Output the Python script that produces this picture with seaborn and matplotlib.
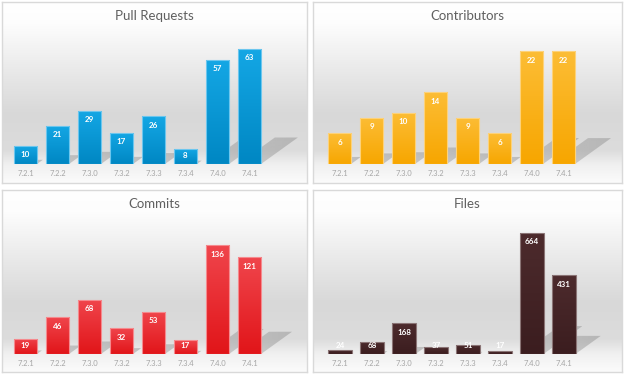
import numpy as np
import matplotlib
matplotlib.use("Agg")
import matplotlib.pyplot as plt
import seaborn as sns
from matplotlib.colors import LinearSegmentedColormap, to_rgb
from matplotlib.patches import Polygon

# ---------------------------------------
# data
# ---------------------------------------
versions = ['7.2.1', '7.2.2', '7.3.0', '7.3.2', '7.3.3', '7.3.4', '7.4.0', '7.4.1']
pull_requests = [10, 21, 29, 17, 26, 8, 57, 63]
contributors = [6, 9, 10, 14, 9, 6, 22, 22]
commits = [19, 46, 68, 32, 53, 17, 136, 121]
files = [24, 68, 168, 37, 51, 17, 664, 431]

titles = ['Pull Requests', 'Contributors', 'Commits', 'Files']
series = [pull_requests, contributors, commits, files]
y_max = [70, 25, 160, 700]
# (top, bottom, edge) colours per chart
bar_colors = [('#14a7e5', '#0087c3', '#6cc6ee'),
              ('#fcbd35', '#f7a600', '#fdd27a'),
              ('#f0454c', '#e11519', '#f58a8e'),
              ('#4d2b2d', '#3b1d1f', '#8a7475')]

# ---------------------------------------
# layout (pixels)
# ---------------------------------------
W, H = 624, 375
panels = [(2, 2, 305, 181), (313, 2, 309, 181), (2, 190, 305, 182), (313, 190, 309, 182)]
first_offset = [7.5, 10.5, 7.5, 11]   # left of plot area inside panel
base_offset = [162, 162, 164, 164]    # baseline below panel top
slot = 32                              # px per category
plot_h = 128                           # px of plot height
extra = 1.4                            # room on the right for shadows (slots)

sns.set_theme(style='white')
plt.rcParams['font.family'] = ['Lato', 'DejaVu Sans']

fig = plt.figure(figsize=(W / 100, H / 100), dpi=100)

bg_cmap = LinearSegmentedColormap.from_list(
    'bg', [(0.0, '#ffffff'), (0.12, '#fdfdfd'), (0.45, '#e4e4e4'),
           (0.62, '#d8d8d8'), (0.82, '#dcdcdc'), (0.9, '#f0f0f0'), (1.0, '#fbfbfb')])

for i, (px, py, pw, ph) in enumerate(panels):
    # panel background
    bg = fig.add_axes([px / W, 1 - (py + ph) / H, pw / W, ph / H])
    grad = np.linspace(0, 1, 256).reshape(-1, 1)
    bg.imshow(grad, cmap=bg_cmap, aspect='auto', extent=(0, 1, 0, 1),
              interpolation='bilinear', vmin=0, vmax=1)
    bg.set_xticks([])
    bg.set_yticks([])
    for s in bg.spines.values():
        s.set_color('#d9d9d9')
        s.set_linewidth(1.0)
    bg.text(0.5, 1 - 14 / ph, titles[i], ha='center', va='center',
            fontsize=9.5, color='#606060', transform=bg.transAxes)

    # plot area
    left = px + first_offset[i]
    bottom = py + base_offset[i]
    n_cat = len(versions)
    ax = fig.add_axes([left / W, 1 - bottom / H, slot * (n_cat + extra) / W, plot_h / H])
    ax.patch.set_alpha(0)
    vals = series[i]
    top_c, bot_c, edge_c = bar_colors[i]
    sns.barplot(x=versions, y=vals, ax=ax, color=bot_c, width=0.72, zorder=3)

    ppx = slot                       # px per x unit
    ppy = plot_h / y_max[i]          # px per y unit
    bar_cmap = LinearSegmentedColormap.from_list('bar', [bot_c, top_c])
    shadow_rgb = to_rgb('#8a8a8a')

    for p in list(ax.patches):
        x0, w, h = p.get_x(), p.get_width(), p.get_height()
        # perspective shadow behind the bar
        dx = 0.32 * h * ppy / ppx
        dy = 0.23 * h
        poly = Polygon([(x0, 0), (x0 + w, 0), (x0 + w + dx, dy), (x0 + dx, dy)],
                       closed=True, facecolor='none', edgecolor='none')
        ax.add_patch(poly)
        n = 64
        sh = np.zeros((1, n, 4))
        sh[..., :3] = shadow_rgb
        sh[..., 3] = np.linspace(0.35, 0.45, n)
        im = ax.imshow(sh, extent=(x0, x0 + w + dx, 0, max(dy, 1e-6)), aspect='auto',
                       interpolation='bilinear', zorder=1)
        im.set_clip_path(poly)

        # vertical gradient fill
        g = np.linspace(0, 1, 128).reshape(-1, 1)
        bim = ax.imshow(g, cmap=bar_cmap, extent=(x0, x0 + w, 0, h), aspect='auto',
                        origin='lower', interpolation='bilinear', zorder=2.5)
        bim.set_clip_path(p)
        p.set_facecolor('none')
        p.set_edgecolor(edge_c)
        p.set_linewidth(0.8)

        # value label inside end
        ly = max(h - 9 / ppy, 9 / ppy)
        ax.text(x0 + w / 2, ly, f'{int(h)}', ha='center', va='center',
                color='white', fontsize=5.8, fontweight='bold', zorder=5)

    ax.set_xlim(-0.5, n_cat - 0.5 + extra)
    ax.set_ylim(0, y_max[i])
    ax.set_xlabel('')
    ax.set_ylabel('')
    ax.set_yticks([])
    ax.tick_params(axis='x', length=0, pad=4.5, labelsize=5.5, labelcolor='#a6a6a6')
    sns.despine(ax=ax, left=True, bottom=True)

fig.savefig('out.png', dpi=100)
